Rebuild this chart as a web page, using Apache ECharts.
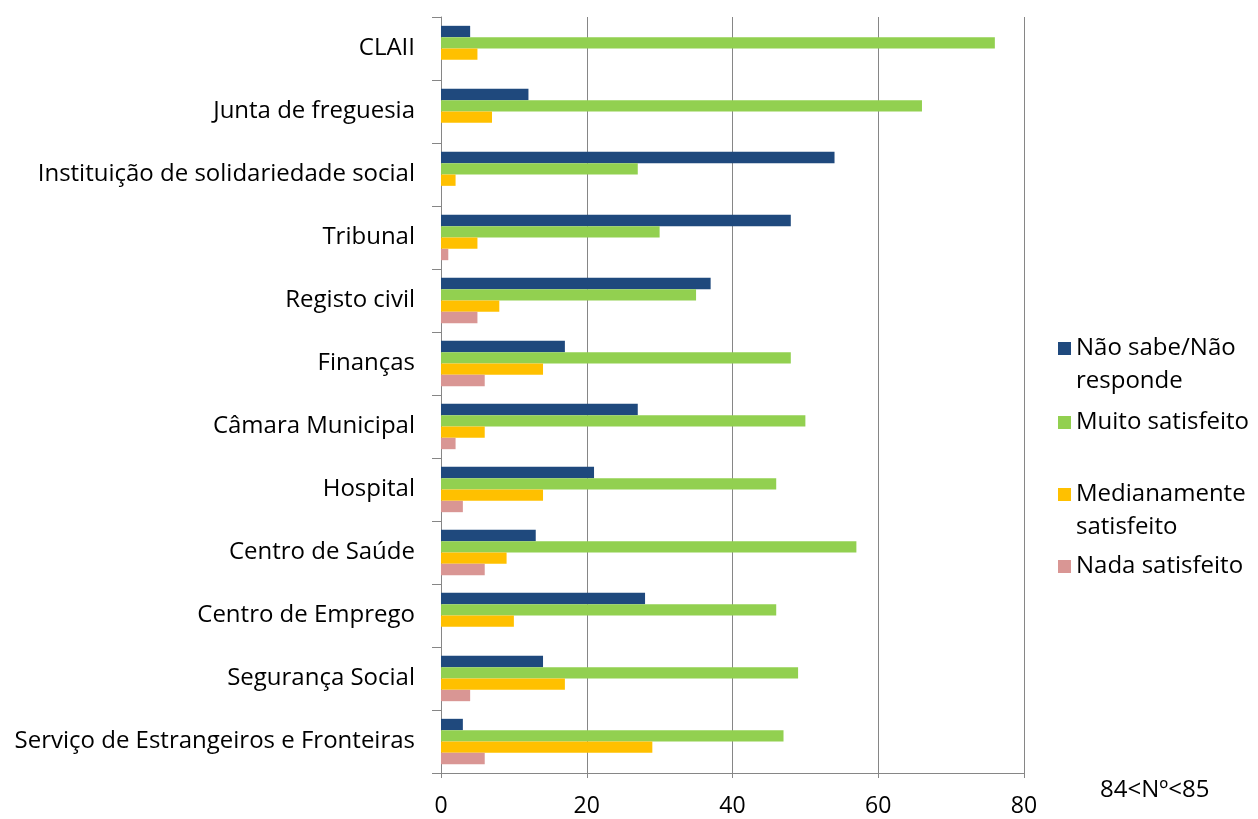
<!DOCTYPE html>
<html>
<head>
<meta charset="utf-8">
<script src="https://cdn.jsdelivr.net/npm/echarts@6/dist/echarts.min.js"></script>
<style>
  html, body { margin: 0; padding: 0; background: #fff; }
  #main { width: 1258px; height: 819px; }
</style>
</head>
<body>
<div id="main"></div>
<script>
const categories = [
  'CLAII', 'Junta de freguesia', 'Instituição de solidariedade social', 'Tribunal',
  'Registo civil', 'Finanças', 'Câmara Municipal', 'Hospital', 'Centro de Saúde',
  'Centro de Emprego', 'Segurança Social', 'Serviço de Estrangeiros e Fronteiras'
];
const naoSabe      = [4, 12, 54, 48, 37, 17, 27, 21, 13, 28, 14, 3];
const muito        = [76, 66, 27, 30, 35, 48, 50, 46, 57, 46, 49, 47];
const medianamente = [5, 7, 2, 5, 8, 14, 6, 14, 9, 10, 17, 29];
const nada         = [0, 0, 0, 1, 5, 6, 2, 3, 6, 0, 4, 6];
const xTicks = [0, 20, 40, 60, 80];
const seriesNames = ['Não sabe/Não\nresponde', 'Muito satisfeito', 'Medianamente\nsatisfeito', 'Nada satisfeito'];
const seriesData = [naoSabe, muito, medianamente, nada];
const colors = ['#1F497D', '#92D050', '#FFC000', '#D99694'];

const font = 'Open Sans';
// square icon on the first text line for two-line legend entries
const tallIcon = 'path://M0,0h13v13h-13z M0,46h0.01v0.01h-0.01z';
const legendTops = [332, 406, 478, 550];

var myChart = echarts.init(document.getElementById('main'));

const option = {
  animation: false,
  backgroundColor: '#fff',
  textStyle: { fontFamily: font },
  grid: { left: 441, right: 234, top: 17, bottom: 46 },
  xAxis: {
    type: 'value',
    min: xTicks[0],
    max: xTicks[xTicks.length - 1],
    interval: 20,
    axisLine: { show: true, lineStyle: { color: '#868686' } },
    axisTick: { show: true, length: 5, lineStyle: { color: '#868686' } },
    splitLine: { show: true, lineStyle: { color: '#868686', width: 1 } },
    axisLabel: { color: '#000', fontSize: 23, fontFamily: font, margin: 22 }
  },
  yAxis: {
    type: 'category',
    inverse: true,
    data: categories,
    axisLine: { show: true, lineStyle: { color: '#868686' } },
    axisTick: { show: true, length: 9, lineStyle: { color: '#868686' } },
    axisLabel: { color: '#000', fontSize: 24, fontFamily: font, margin: 26 }
  },
  legend: seriesNames.map((n, i) => ({
    data: [n],
    left: 1058,
    top: legendTops[i],
    padding: 0,
    orient: 'vertical',
    icon: n.indexOf('\n') >= 0 ? tallIcon : 'rect',
    itemWidth: 13,
    itemHeight: n.indexOf('\n') >= 0 ? 46 : 13,
    itemGap: 7,
    selectedMode: false,
    textStyle: { color: '#000', fontSize: 24, fontFamily: font, lineHeight: 33 }
  })),
  graphic: [{
    type: 'text',
    left: 1100,
    top: 778,
    style: { text: '84<Nº<85', fill: '#000', font: '24px ' + font }
  }],
  series: seriesNames.map((n, i) => ({
    name: n,
    type: 'bar',
    data: seriesData[i],
    barGap: '0%',
    barCategoryGap: '28%',
    itemStyle: { color: colors[i] }
  }))
};

myChart.setOption(option);
</script>
</body>
</html>
